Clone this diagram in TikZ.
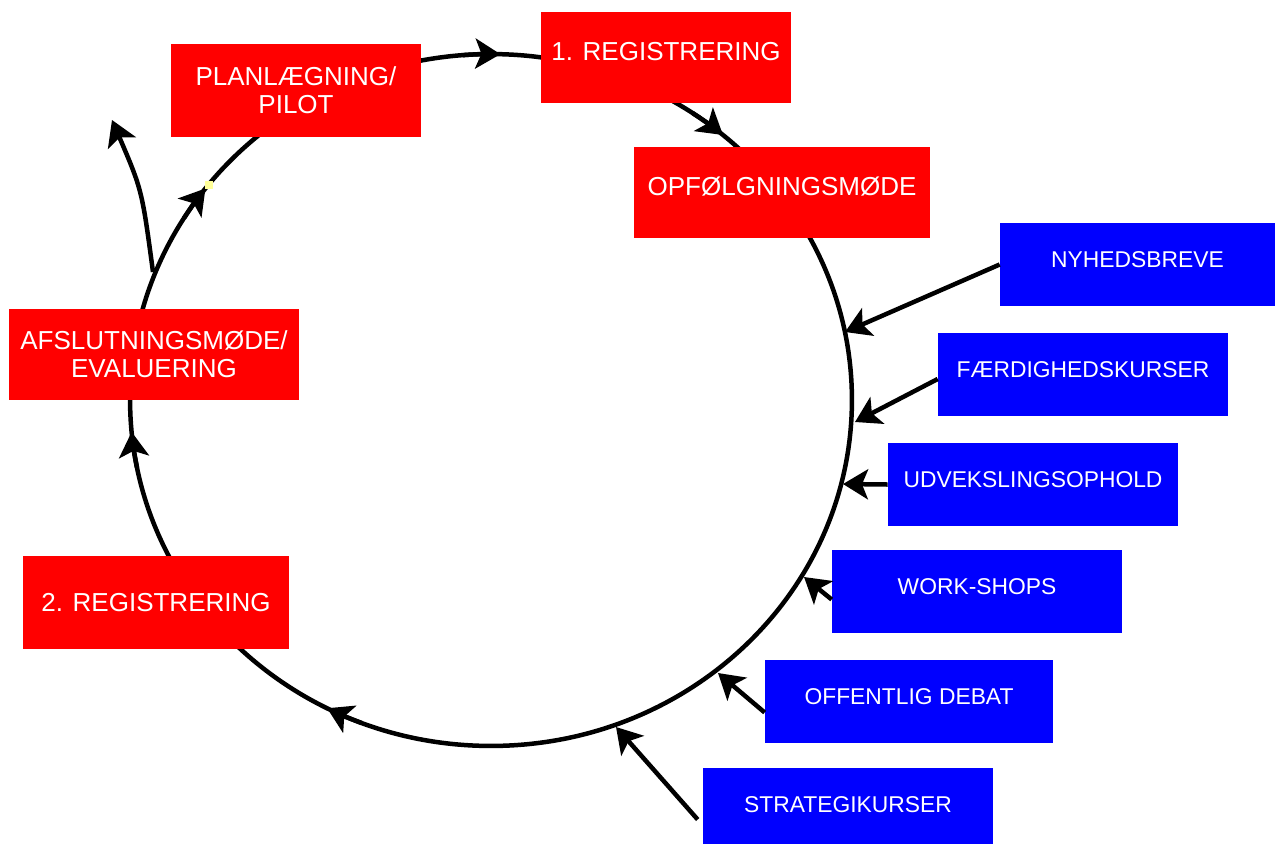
\documentclass[tikz,border=0pt]{standalone}
\usepackage{fontspec}
\setmainfont{Liberation Sans}
\usetikzlibrary{arrows.meta}
\definecolor{myred}{RGB}{255, 0, 0}
\definecolor{myblue}{RGB}{0, 0, 255}
\definecolor{myyellow}{RGB}{255, 255, 153}
\tikzset{>={Stealth[length = 0.5cm, width = 0.6cm, inset = 0.12cm]}}
\tikzset{
  redbox/.style = {fill = myred, text = white, inner sep = 0, align = center, font = \fontsize{14.8}{15.9}\selectfont},
  bluebox/.style = {fill = myblue, text = white, inner sep = 0, minimum width = 5.8cm, minimum height = 1.66cm,
    text height = 0.34cm, text depth = 0.21cm, font = \fontsize{13}{15}\selectfont},
  oneline/.style = {text height = 0.38cm, text depth = 0.27cm},
  cycleline/.style = {line width = 0.09cm},
}
\begin{document}
\begin{tikzpicture}[x = 0.02cm, y = -0.02cm]

\useasboundingbox (0,0) rectangle (1275,843);

% the cycle
\draw[cycleline] (491,400) ellipse [x radius = 7.22cm, y radius = 6.92cm];
\foreach \a in {88.5, 50, 243, 185.3, 142.3}
  \draw[cycleline, ->] (491,400) ++({\a+6}:7.22cm and 6.92cm) arc[start angle = \a+6, end angle = \a, x radius = 7.22cm, y radius = 6.92cm];

\coordinate (branch) at (153,272);
\coordinate (branchend) at (112,120);
\draw[cycleline, ->] (branch) .. controls (142,190) .. (branchend);
\fill[myyellow] (205,181) rectangle (213,189);

% stages
\node[redbox, oneline, minimum width = 5cm, minimum height = 1.82cm] (reg1) at (666,57.5) {1. REGISTRERING};
\node[redbox, oneline, minimum width = 5.92cm, minimum height = 1.82cm] (opf) at (782,192.5) {OPFØLGNINGSMØDE};
\node[redbox, minimum width = 5.32cm, minimum height = 1.86cm] (reg2) at (156,602.5) {2. REGISTRERING};
\node[redbox, minimum width = 5.8cm, minimum height = 1.82cm] (afsl) at (154,354.5) {AFSLUTNINGSMØDE/\\EVALUERING};
\node[redbox, minimum width = 5cm, minimum height = 1.86cm] (plan) at (296,90.5) {PLANLÆGNING/\\PILOT};

% activities
\node[bluebox, minimum width = 5.5cm] (nyhed) at (1137.5,264.5) {NYHEDSBREVE};
\node[bluebox] (faerd) at (1083,374.5) {FÆRDIGHEDSKURSER};
\node[bluebox] (udv) at (1033,484.5) {UDVEKSLINGSOPHOLD};
\node[bluebox] (work) at (977,591.5) {WORK-SHOPS};
\node[bluebox, minimum width = 5.76cm] (offent) at (909,701.5) {OFFENTLIG DEBAT};
\node[bluebox] (strat) at (848,809.5) {STRATEGIKURSER};

\coordinate (tipnyhed) at (845,332);
\coordinate (tipfaerd) at (855,422);
\coordinate (tipudv) at (843,484);
\coordinate (tipwork) at (804,577);
\coordinate (tipoffent) at (718,673);
\coordinate (tipstrat) at (616,727);

\draw[cycleline, ->] (nyhed.west) -- (tipnyhed);
\draw[cycleline, ->] ([yshift = -0.09cm]faerd.west) -- (tipfaerd);
\draw[cycleline, ->] (udv.west) -- (tipudv);
\draw[cycleline, ->] ([yshift = -0.16cm]work.west) -- (tipwork);
\draw[cycleline, ->] ([yshift = -0.22cm]offent.west) -- (tipoffent);
\draw[cycleline, ->] ([xshift = -0.1cm, yshift = -0.2cm]strat.west) -- (tipstrat);

\end{tikzpicture}
\end{document}
